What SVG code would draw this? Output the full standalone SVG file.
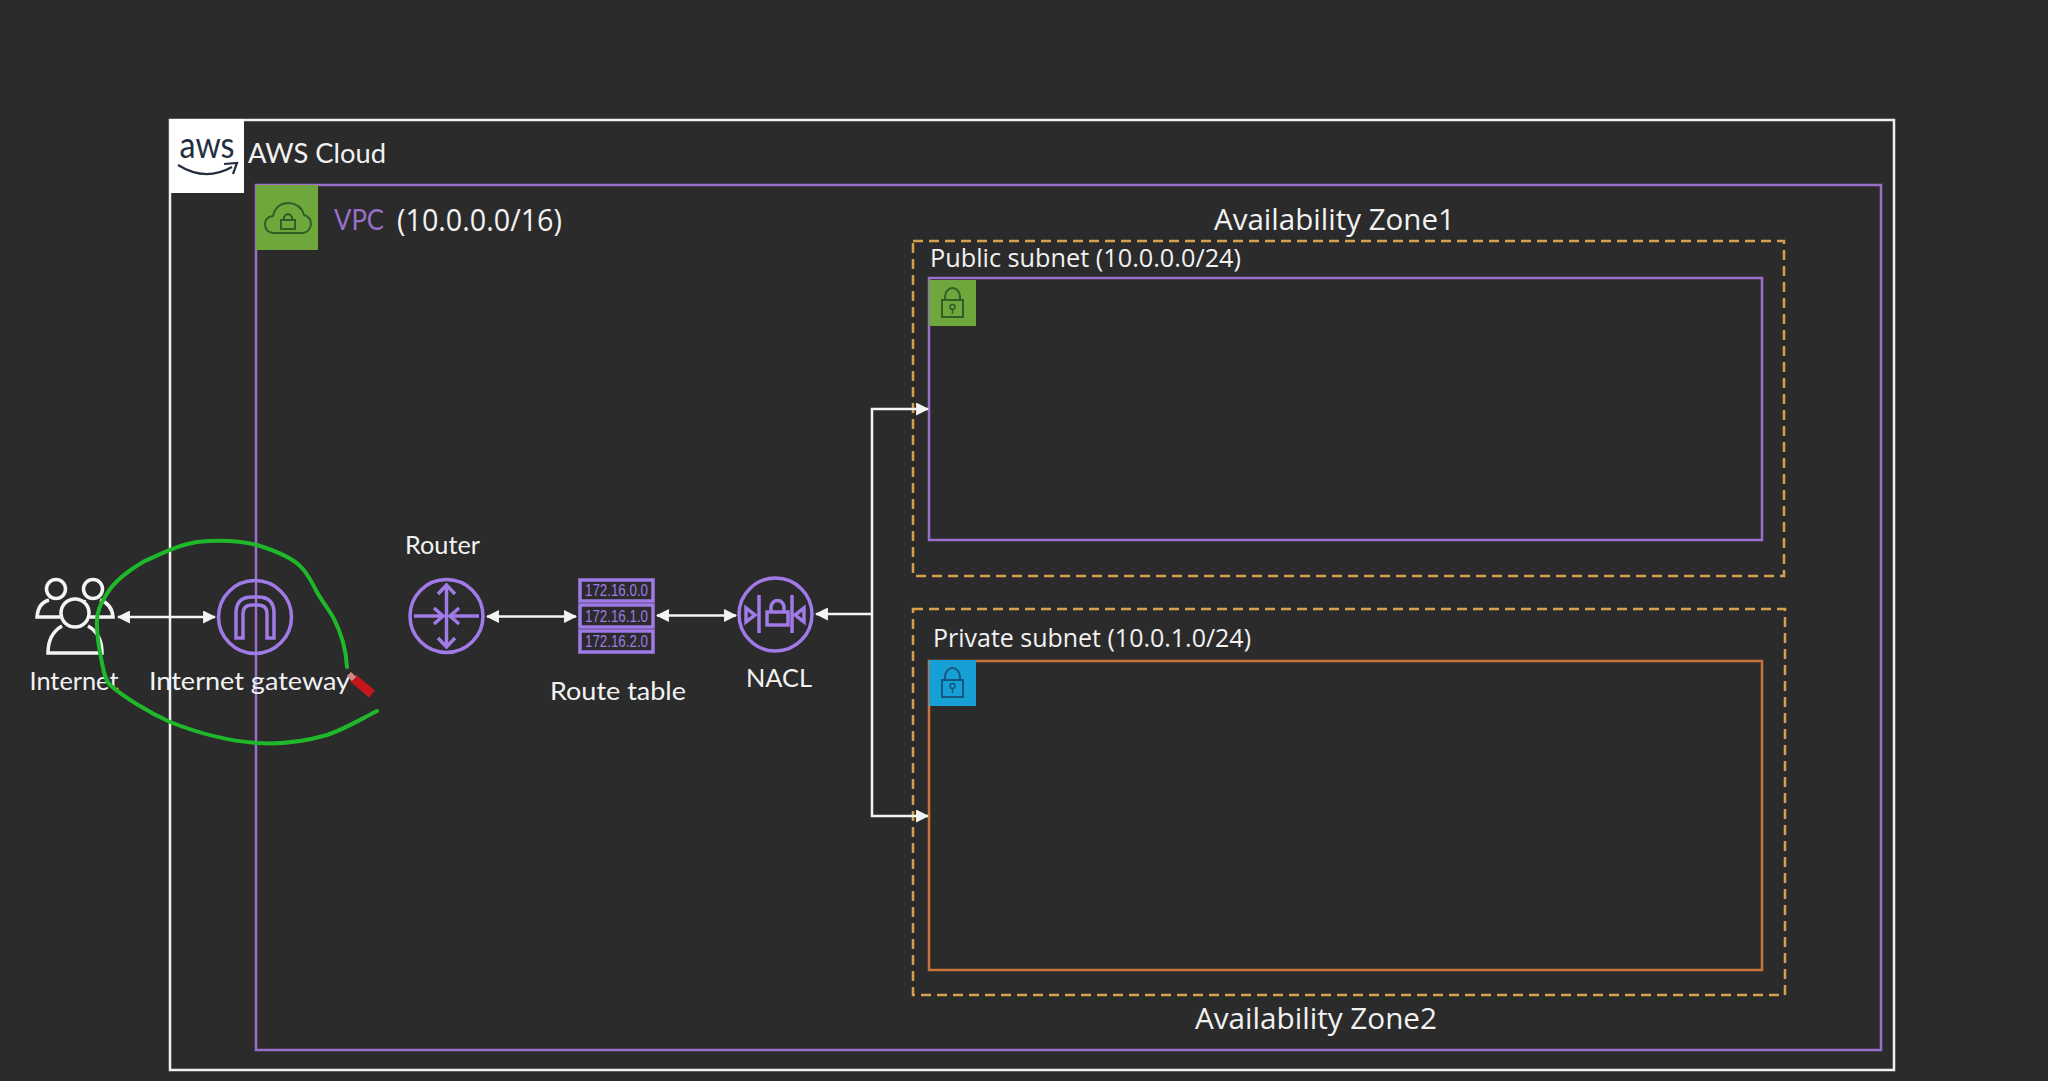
<svg xmlns="http://www.w3.org/2000/svg" width="2048" height="1081" viewBox="0 0 2048 1081">
<style>
.box{fill:none;stroke-width:2.5}
.az{fill:none;stroke:#d69f4c;stroke-width:2.500;stroke-dasharray:10 6}
.g{font-family:"Lato","Liberation Sans",sans-serif;fill:#f2f2f2}
.s{font-family:"Open Sans","Noto Sans","Liberation Sans",sans-serif;fill:#f2f2f2}
.ico{fill:none;stroke:#a07ae6;stroke-width:3.500}
.wh{fill:none;stroke:#f4f4f4;stroke-width:3.500}
.con{fill:none;stroke:#f4f4f4;stroke-width:2.5}
.rt{font-family:"Liberation Sans",sans-serif;font-size:16px;fill:#a07ae6;text-anchor:middle}
</style>
<defs>
<marker id="ah" viewBox="0 0 12 12" refX="11" refY="6" markerUnits="userSpaceOnUse" markerWidth="13" markerHeight="13" orient="auto-start-reverse"><path d="M0 0L12 6L0 12Z" fill="#f4f4f4"/></marker>
</defs>
<rect width="2048" height="1081" fill="#2b2b2b"/>
<g id="aws-cloud">
<rect class="box" x="170" y="120" width="1724" height="950" stroke="#f0f0f0"/>
<rect x="170" y="119" width="74" height="74" fill="#fff"/>
<text x="207" y="158" text-anchor="middle" textLength="55" lengthAdjust="spacingAndGlyphs" font-family="Lato,'Liberation Sans',sans-serif" font-size="37" fill="#232f3e">aws</text>
<path d="M178 165Q205 182 232 167M224 164L237 163L233 174" fill="none" stroke="#232f3e" stroke-width="2.2"/>
<text class="g" x="248" y="163" font-size="27" textLength="138" lengthAdjust="spacingAndGlyphs">AWS Cloud</text>
</g>
<g id="vpc">
<rect class="box" x="256" y="185" width="1625" height="865" stroke="#9a6fc9"/>
<rect x="256" y="185" width="62" height="65" fill="#6ea83c"/>
<path d="M273 233Q265 232 265 224Q265 217 273 216Q276 203 289 203Q301 204 304 215Q311 217 311 224Q310 232 303 233Z" fill="none" stroke="#2f5f25" stroke-width="2"/>
<rect x="281" y="220" width="14" height="9" fill="none" stroke="#2f5f25" stroke-width="2"/>
<path d="M284 220V217Q288 211 292 217V220" fill="none" stroke="#2f5f25" stroke-width="2"/>
<text x="334" y="230" font-family="Lato,'Liberation Sans',sans-serif" font-size="28" fill="#9a6fc9" textLength="50" lengthAdjust="spacingAndGlyphs">VPC</text>
<text class="s" x="397" y="231" font-size="31" textLength="165" lengthAdjust="spacingAndGlyphs">(10.0.0.0/16)</text>
</g>
<g id="az1">
<rect class="az" x="913" y="241" width="871" height="335"/>
<text class="s" x="1214" y="230" font-size="30" textLength="241" lengthAdjust="spacingAndGlyphs">Availability Zone1</text>
</g>
<g id="az2">
<rect class="az" x="913" y="609" width="872" height="386"/>
<text class="s" x="1195" y="1029" font-size="30" textLength="242" lengthAdjust="spacingAndGlyphs">Availability Zone2</text>
</g>
<g id="public-subnet">
<rect class="box" x="929" y="278" width="833" height="262" stroke="#9a6fc9"/>
<rect x="929" y="280" width="47" height="46" fill="#6ea83c"/>
<rect x="942" y="300" width="21" height="17" fill="none" stroke="#2f5f25" stroke-width="2"/>
<path d="M945 300V297A7.500 9 0 0 1 960 297V300" fill="none" stroke="#2f5f25" stroke-width="2"/>
<circle cx="952.500" cy="307" r="2.500" fill="none" stroke="#2f5f25" stroke-width="1.500"/>
<path d="M952.500 310V314" stroke="#2f5f25" stroke-width="1.500"/>
<text class="s" x="930" y="267" font-size="25" textLength="311" lengthAdjust="spacingAndGlyphs">Public subnet (10.0.0.0/24)</text>
</g>
<g id="private-subnet">
<rect class="box" x="929" y="661" width="833" height="309" stroke="#c8743a"/>
<rect x="929" y="660" width="47" height="46" fill="#17a0d6"/>
<rect x="942" y="680" width="21" height="17" fill="none" stroke="#14587f" stroke-width="2"/>
<path d="M945 680V677A7.500 9 0 0 1 960 677V680" fill="none" stroke="#14587f" stroke-width="2"/>
<circle cx="952.500" cy="686" r="2.500" fill="none" stroke="#14587f" stroke-width="1.500"/>
<path d="M952.500 689V693" stroke="#14587f" stroke-width="1.500"/>
<text class="s" x="933" y="647" font-size="25" textLength="318" lengthAdjust="spacingAndGlyphs">Private subnet (10.0.1.0/24)</text>
</g>
<g id="connectors">
<path class="con" d="M118 617H215" marker-start="url(#ah)" marker-end="url(#ah)"/>
<path class="con" d="M487 616.500H576" marker-start="url(#ah)" marker-end="url(#ah)"/>
<path class="con" d="M657 615.500H736" marker-start="url(#ah)" marker-end="url(#ah)"/>
<path class="con" d="M872 614H816" stroke-width="3" marker-end="url(#ah)"/>
<path class="con" d="M928 409H872V816H928" marker-start="url(#ah)" marker-end="url(#ah)"/>
</g>
<g id="internet">
<circle class="wh" cx="56" cy="589" r="9.500"/>
<circle class="wh" cx="93" cy="589" r="9.500"/>
<path class="wh" d="M60 617H37Q38 603 49 600M100 600Q112 604 113 617H90M84 600Q84 601 85 602"/>
<circle class="wh" cx="75" cy="613" r="14"/>
<path class="wh" d="M62 626Q48 634 48 653H102Q102 634 88 626"/>
<text class="g" x="74" y="690" font-size="25" text-anchor="middle" textLength="89" lengthAdjust="spacingAndGlyphs">Internet</text>
</g>
<g id="internet-gateway">
<circle class="ico" cx="255" cy="617" r="36.500"/>
<path class="ico" d="M236 638V613Q236 597 252 597H258Q274 597 274 613V638H267V614Q267 605 258 605H252Q243 605 243 614V638Z"/>
<text class="g" x="149" y="690" font-size="25" textLength="201" lengthAdjust="spacingAndGlyphs">Internet gateway</text>
</g>
<g id="router">
<circle class="ico" cx="446.500" cy="616" r="36.500"/>
<path class="ico" d="M446.500 585V647M438 594L446.500 585L455 594M438 638L446.500 647L455 638M414 616H443M434 608L443 616L434 624M479 616H450M459 608L450 616L459 624"/>
<text class="g" x="405" y="554" font-size="25" textLength="75" lengthAdjust="spacingAndGlyphs">Router</text>
</g>
<g id="route-table">
<rect class="ico" x="580" y="580" width="73" height="21"/>
<rect class="ico" x="580" y="605" width="73" height="22"/>
<rect class="ico" x="580" y="631" width="73" height="21"/>
<text class="rt" x="616.500" y="596" textLength="63" lengthAdjust="spacingAndGlyphs">172.16.0.0</text>
<text class="rt" x="616.500" y="621.500" textLength="63" lengthAdjust="spacingAndGlyphs">172.16.1.0</text>
<text class="rt" x="616.500" y="647" textLength="63" lengthAdjust="spacingAndGlyphs">172.16.2.0</text>
<text class="g" x="550" y="700" font-size="25" textLength="136" lengthAdjust="spacingAndGlyphs">Route table</text>
</g>
<g id="nacl">
<circle class="ico" cx="775.500" cy="614.500" r="36.500"/>
<path class="ico" d="M759 595V633M792 595V633M746 608L755 615L746 622ZM804 608L795 615L804 622Z"/>
<rect class="ico" x="767" y="612" width="21" height="13"/>
<path class="ico" d="M771 612V607A6.500 6.500 0 0 1 784 607V612"/>
<text class="g" x="746" y="687" font-size="25" textLength="66" lengthAdjust="spacingAndGlyphs">NACL</text>
</g>
<g id="annotation">
<path d="M347 667C346 648 342 634 333 617C327 607 322 601 317 592C311 581 307 572 300 566C290 556 273 550 257 545C237 540 215 540 197 542C178 545 160 554 143 562C128 571 115 581 108 592C101 603 96 612 97 625C97 640 100 653 102 663C104 672 105 680 110 685C125 698 150 713 170 722C198 733 228 741 257 743C284 745 306 741 327 735C345 729 361 719 377 711" fill="none" stroke="#1eb82a" stroke-width="4" stroke-linecap="round"/>
<path d="M353 678L372 694" stroke="#c4161c" stroke-width="9"/>
<path d="M349 674L354 679" stroke="#c98a8a" stroke-width="6"/>
</g>
</svg>
